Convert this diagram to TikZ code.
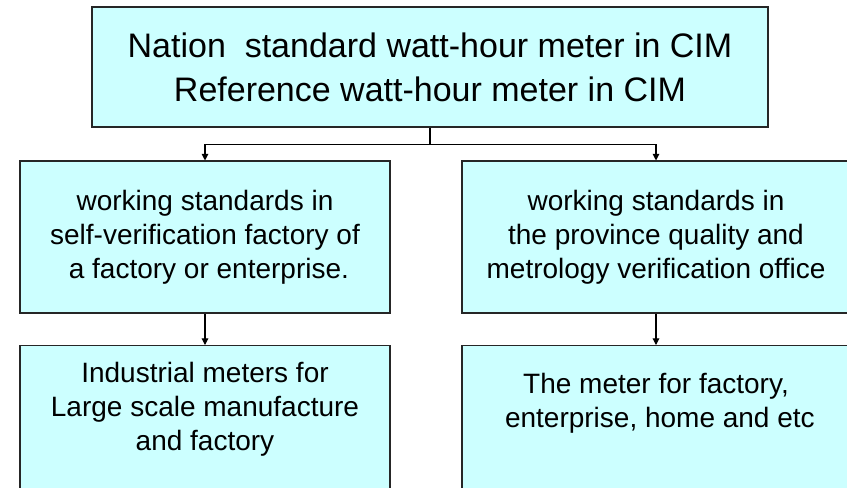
\documentclass[tikz,border=0pt]{standalone}
\usepackage{xcolor}
\usepackage{fontspec}
\setmainfont{Liberation Sans}
\usetikzlibrary{arrows.meta, calc}

\definecolor{boxcyan}{HTML}{CCFFFF}
\tikzset{
  box/.style={draw=black!85, line width=0.8pt, fill=boxcyan, align=center, inner sep=0pt},
  bigtxt/.style={font=\fontsize{25.5}{33}\selectfont},
  smalltxt/.style={font=\fontsize{21}{25.5}\selectfont},
}

\begin{document}
\begin{tikzpicture}[x=0.75pt, y=-0.75pt, >={Triangle[length=5pt, width=5pt]}, line width=0.8pt]
  \useasboundingbox (0,0) rectangle (847,487);
  \clip (0,0) rectangle (847,487);
  \node[box, bigtxt, minimum width=507pt, minimum height=90pt] (CIM) at (430,67) {Nation\ \ standard watt-hour meter in CIM\\Reference watt-hour meter in CIM};
  \node[box, smalltxt, minimum width=277.5pt, minimum height=114pt] (WSF) at (205,237) {working standards in\\self-verification factory of\\\ a factory or enterprise.};
  \node[box, smalltxt, minimum width=291pt, minimum height=114pt] (WSP) at (656,237) {working standards in\\the province quality and\\metrology verification office};
  \node[box, smalltxt, anchor=north, minimum width=277.5pt, inner ysep=12.5pt, text depth=120pt] (IND) at (205,345) {Industrial meters for\\Large scale manufacture\\and factory};
  \node[box, smalltxt, anchor=north, minimum width=291pt, inner ysep=20.5pt, text depth=120pt] (HOM) at (656,345) {The meter for factory,\\\ enterprise, home and etc};
  \draw[->] (CIM.south) -- ++(0,17) -| (WSF.north);
  \draw[->] (CIM.south) -- ++(0,17) -| (WSP.north);
  \draw[->] (WSF) -- (IND);
  \draw[->] (WSP) -- (HOM);
\end{tikzpicture}
\end{document}
